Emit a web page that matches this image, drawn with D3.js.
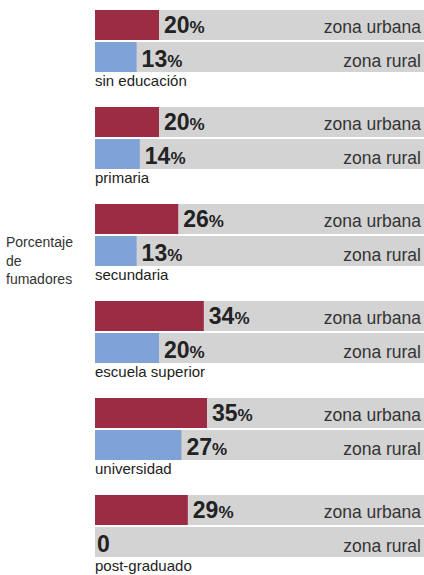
<!DOCTYPE html>
<html>
<head>
<meta charset="utf-8">
<script src="https://cdn.jsdelivr.net/npm/d3@7"></script>
<style>
  body { margin: 0; background: #fff; }
  text { font-family: "Liberation Sans", Arial, sans-serif; }
</style>
</head>
<body>
<div id="chart-area"></div>
<script>
// niveles educativos y porcentajes de fumadores
var categories = ["sin educación", "primaria", "secundaria", "escuela superior", "universidad", "post-graduado"];
var urbana = [20, 20, 26, 34, 35, 29];
var rural = [13, 14, 13, 20, 27, 0];
var seriesNames = ["zona urbana", "zona rural"];
var colors = ["#9b2c43", "#7fa3d6"];

var width = 424, height = 575;
var left = 95;

var svg = d3.select("#chart-area")
  .append("svg")
  .attr("width", width)
  .attr("height", height);

var data = categories.map(function(c, i) {
  return { cat: c, values: [urbana[i], rural[i]] };
});

var y = d3.scaleBand()
  .domain(categories)
  .range([10, 10 + 97 * categories.length]);

var ySub = d3.scaleBand()
  .domain(seriesNames)
  .range([0, 62])
  .paddingInner(0.0625);

var x = d3.scaleLinear()
  .domain([0, 100])
  .range([left, left + 320]);

var groups = svg.selectAll("g.group")
  .data(data)
  .enter().append("g")
  .attr("class", "group")
  .attr("transform", d => "translate(0," + y(d.cat) + ")");

var rows = groups.selectAll("g.row")
  .data(d => d.values.map((v, j) => ({ v: v, s: seriesNames[j], j: j })))
  .enter().append("g")
  .attr("class", "row")
  .attr("transform", d => "translate(0," + ySub(d.s) + ")");

// fondo gris
rows.append("rect")
  .attr("x", left)
  .attr("y", 0)
  .attr("width", width - left)
  .attr("height", ySub.bandwidth())
  .attr("fill", "#d3d3d3");

rows.append("rect")
  .attr("x", left)
  .attr("y", 0)
  .attr("width", d => x(d.v) - left)
  .attr("height", ySub.bandwidth())
  .attr("fill", d => colors[d.j]);

// valores
var val = rows.append("text")
  .attr("x", d => x(d.v) + (d.v === 0 ? 2 : 5))
  .attr("y", d => d.j === 0 ? 23 : 25)
  .attr("fill", "#222");
val.append("tspan")
  .attr("font-size", "23px")
  .attr("font-weight", "bold")
  .text(d => d.v);
val.append("tspan")
  .attr("font-size", "17px")
  .attr("font-weight", "bold")
  .text(d => d.v === 0 ? "" : "%");

// nombres de serie
rows.append("text")
  .attr("x", width - 3)
  .attr("y", d => d.j === 0 ? 23 : 25)
  .attr("text-anchor", "end")
  .attr("font-size", "17.5px")
  .attr("fill", "#333")
  .text(d => d.s);

// etiqueta de categoría
groups.append("text")
  .attr("x", left)
  .attr("y", 76)
  .attr("font-size", "15px")
  .attr("fill", "#222")
  .text(d => d.cat);

// título lateral
var title = svg.append("text")
  .attr("x", 6)
  .attr("y", 247)
  .attr("font-size", "14px")
  .attr("fill", "#333");
["Porcentaje", "de", "fumadores"].forEach(function(t, i) {
  title.append("tspan").attr("x", 6).attr("dy", i === 0 ? 0 : 18.5).text(t);
});
</script>
</body>
</html>
